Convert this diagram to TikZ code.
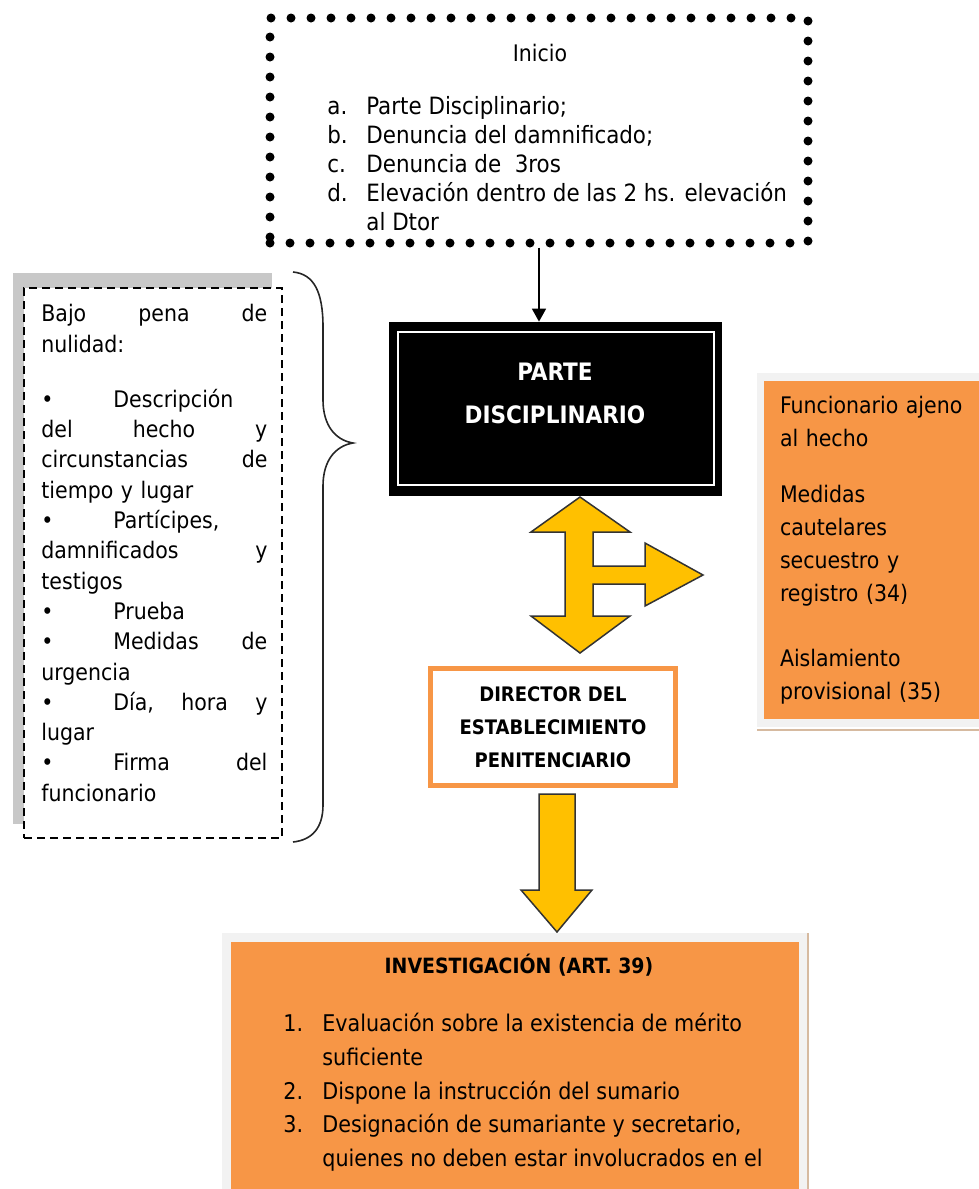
\documentclass[tikz,border=0pt]{standalone}
\usepackage{fontspec}
\IfFontExistsTF{DejaVu Sans Condensed}{\setmainfont{DejaVu Sans Condensed}}{\setmainfont{DejaVu Sans}[Scale=0.9]}
\usepackage{tikz}
\usetikzlibrary{arrows.meta, positioning}
\definecolor{boxorange}{RGB}{247, 150, 70}
\definecolor{arrowyellow}{RGB}{255, 192, 0}
\definecolor{framegray}{RGB}{242, 242, 242}
\definecolor{shadowgray}{RGB}{200, 200, 200}
\definecolor{shadowtan}{RGB}{214, 186, 160}
\newcommand{\bul}{\makebox[36pt][l]{•}}
\newcommand{\itemlbl}[1]{\makebox[19.5pt][l]{#1}}

\begin{document}
\begin{tikzpicture}[x=0.5pt, y=-0.5pt, >=Stealth,
    dotbox/.style={draw, line width=4.5pt, line cap=round, dash pattern=on 0pt off 10pt, minimum width=269pt, minimum height=112.5pt, inner sep=0pt},
    blackbox/.style={fill=black, draw=black, minimum width=166pt, minimum height=86.5pt, inner sep=0pt},
    dirbox/.style={draw=boxorange, line width=2.5pt, fill=white, minimum width=122.5pt, minimum height=58.5pt, align=center, font=\fontsize{10}{16.5}\selectfont\bfseries},
    orangebox/.style={fill=boxorange, inner sep=0pt},
    dashbox/.style={draw, fill=white, dash pattern=on 4pt off 2.5pt, line width=0.75pt, minimum width=129pt, minimum height=275pt, inner sep=0pt},
    blockarrow/.style={fill=arrowyellow, draw=black!80, line width=0.75pt, line join=miter},
    bodytext/.style={inner sep=0pt, align=left, font=\fontsize{11.4}{14.5}\selectfont}
]
    \useasboundingbox (0,0) rectangle (979,1189);
    \clip (0,0) rectangle (979,1189);

    % Inicio
    \node[dotbox] (inicio) at (539,130.5) {};
    \node[bodytext] (iniTitle) at (540,53) {Inicio};
    \begin{scope}
        \clip (280,30) rectangle (800,231);
        \node[bodytext, anchor=north west, font=\fontsize{11.9}{14.5}\selectfont] (iniList) at (327,96) {\itemlbl{a.}Parte Disciplinario;\\ \itemlbl{b.}Denuncia del damnificado;\\ \itemlbl{c.}Denuncia de\ \ 3ros\\ \itemlbl{d.}Elevación dentro de las 2 hs. elevación\\ \hspace*{19.5pt}al Dtor};
    \end{scope}

    % Parte disciplinario
    \node[blackbox] (parte) at (555,408.5) {};
    \draw[white, line width=1pt] ([shift={(9,10)}]parte.north west) rectangle ([shift={(-7,-10)}]parte.south east);
    \node[font=\fontsize{12}{21.5}\selectfont\bfseries, text=white, align=center] (parteText) at (555,393.5) {PARTE\\DISCIPLINARIO};
    \draw[line width=0.9pt, -{Triangle[length=6.5pt, width=7pt]}] (inicio.south) -- (inicio.south |- parte.north);

    % Requisitos bajo pena de nulidad
    \fill[shadowgray] (13,273) rectangle (272,824);
    \node[dashbox] (nulidad) at (153,563) {};
    \node[bodytext, anchor=north west, text width=113pt, font=\fontsize{11.4}{15.15}\selectfont] (nulText) at (41,304) {Bajo\hfill pena\hfill de\\ nulidad:\\[12.5pt] \bul Descripción\\ del\hfill hecho\hfill y\\ circunstancias\hfill de\\ tiempo y lugar\\ \bul Partícipes,\\ damnificados\hfill y\\ testigos\\ \bul Prueba\\ \bul Medidas\hfill de\\ urgencia\\ \bul Día,\hfill hora\hfill y\\ lugar\\ \bul Firma\hfill del\\ funcionario};
    \draw[line width=0.8pt, black!85] (293,272) .. controls (314,274) and (323,292) .. (323,327) -- (323,400) .. controls (323,425) and (335,440) .. (353,443) .. controls (335,446) and (323,461) .. (323,486) -- (323,805) .. controls (323,828) and (312,840) .. (293,842);

    % Flechas amarillas
    \draw[blockarrow] (580,497) -- (630,532) -- (593,532) -- (593,566) -- (645,566) -- (645,543) -- (703,575) -- (645,606) -- (645,584) -- (593,584) -- (593,616) -- (630,616) -- (580,653) -- (531,616) -- (565,616) -- (565,532) -- (531,532) -- cycle;

    % Medidas
    \fill[framegray] (757,373) rectangle (990,727);
    \draw[shadowtan, line width=1.2pt] (757,730) -- (990,730);
    \node[orangebox, text width=97pt, minimum height=169pt, inner xsep=8pt, align=left, font=\fontsize{11.4}{16.5}\selectfont] (medidas) at (877,550) {Funcionario ajeno\\ al hecho\\[11.5pt] Medidas\\ cautelares\\ secuestro y\\ registro (34)\\[16pt] Aislamiento\\ provisional (35)};

    % Director
    \node[dirbox] (director) at (553,727) {DIRECTOR DEL\\ESTABLECIMIENTO\\PENITENCIARIO};
    \draw[blockarrow] (539,794) -- (575,794) -- (575,890) -- (592,890) -- (557,932) -- (521,890) -- (539,890) -- cycle;

    % Investigacion
    \fill[framegray] (222,933) rectangle (807,1200);
    \draw[shadowtan, line width=1pt] (808,933) -- (808,1200);
    \node[orangebox, anchor=north west, minimum width=284pt, minimum height=140pt] (investig) at (231,942) {};
    \node[font=\fontsize{10.5}{12}\selectfont\bfseries] (invTitle) at (519,965) {INVESTIGACIÓN (ART. 39)};
    \node[bodytext, anchor=north west, font=\fontsize{11.5}{16.8}\selectfont] (invList) at (283,1013) {\itemlbl{1.}Evaluación sobre la existencia de mérito\\ \hspace*{19.5pt}suficiente\\ \itemlbl{2.}Dispone la instrucción del sumario\\ \itemlbl{3.}Designación de sumariante y secretario,\\ \hspace*{19.5pt}quienes no deben estar involucrados en el};
\end{tikzpicture}
\end{document}
